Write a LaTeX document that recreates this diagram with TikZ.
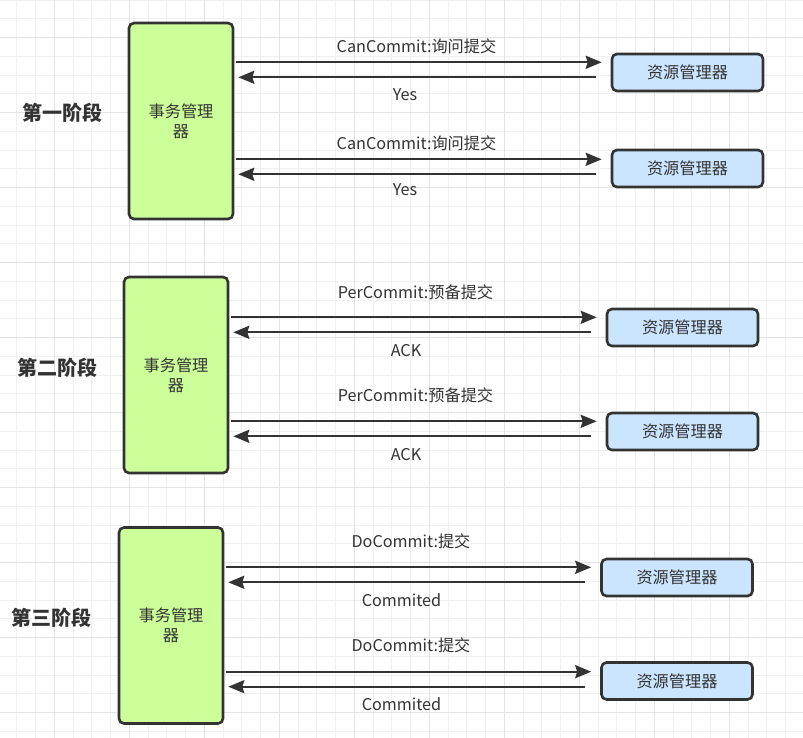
\documentclass[tikz,border=0pt]{standalone}
\usepackage{fontspec}
\setmainfont{Noto Sans CJK SC}
\usetikzlibrary{arrows.meta,calc}
\definecolor{ink}{HTML}{333333}
\definecolor{tmfill}{HTML}{CCFF99}
\definecolor{rmfill}{HTML}{CCE5FF}
\definecolor{gminor}{HTML}{F0F0F0}
\definecolor{gmajor}{HTML}{E3E3E3}
\tikzset{
  tmbox/.style={draw=ink, line width=2.6pt, fill=tmfill, rounded corners=5pt,
    minimum width=104pt, minimum height=196pt, inner sep=0pt, align=center,
    text=ink, font=\fontsize{16.2}{20}\selectfont},
  rmbox/.style={draw=ink, line width=2.6pt, fill=rmfill, rounded corners=5pt,
    minimum width=151pt, minimum height=37pt, inner sep=0pt,
    text=ink, font=\fontsize{16.2}{20}\selectfont},
  msg/.style={text=ink, font=\fontsize{16.2}{20}\selectfont, inner sep=0pt},
  phase/.style={text=ink, font=\bfseries\fontsize{20}{22}\selectfont, inner sep=0pt},
  link/.style={draw=ink, line width=2.3pt, -{Stealth[length=16pt,width=13pt,inset=2pt]}}
}
\begin{document}
\begin{tikzpicture}[x=1pt,y=-1pt]
\useasboundingbox (0,0) rectangle (803,738);
\fill[white] (0,0) rectangle (803,738);
% grid
\foreach \k in {0,...,42} {\draw[gminor, line width=1pt] ({16.8+18.75*\k},0) -- ({16.8+18.75*\k},738);}
\foreach \k in {0,...,39} {\draw[gminor, line width=1pt] (0,{0.2+18.75*\k}) -- (803,{0.2+18.75*\k});}
\foreach \k in {0,...,9} {\draw[gmajor, line width=1pt] ({54.3+75*\k},0) -- ({54.3+75*\k},738);}
\foreach \k in {0,...,9} {\draw[gmajor, line width=1pt] (0,{37.7+75*\k}) -- (803,{37.7+75*\k});}

% ---------- phase 1 ----------
\node[phase] (p1) at (62,113) {第一阶段};
\node[tmbox] (tm1) at (181,121) {事务管理\\器};
\node[rmbox] (rm1a) at (687.5,72.5) {资源管理器};
\node[rmbox] (rm1b) at (687.5,168.5) {资源管理器};
\draw[link] ($(tm1.east |- 0,62.3)+(2,0)$) -- ($(rm1a.west |- 0,62.3)+(-9,0)$);
\draw[link] ($(rm1a.west |- 0,77.3)+(-15,0)$) -- ($(tm1.east |- 0,77.3)+(4,0)$);
\draw[link] ($(tm1.east |- 0,159.3)+(2,0)$) -- ($(rm1b.west |- 0,159.3)+(-9,0)$);
\draw[link] ($(rm1b.west |- 0,174.3)+(-15,0)$) -- ($(tm1.east |- 0,174.3)+(4,0)$);
\node[msg] (m1a) at (416.5,46) {CanCommit:询问提交};
\node[msg] (r1a) at (405,95) {Yes};
\node[msg] (m1b) at (416.5,143) {CanCommit:询问提交};
\node[msg] (r1b) at (405,190) {Yes};

% ---------- phase 2 ----------
\node[phase] (p2) at (57,368) {第二阶段};
\node[tmbox] (tm2) at (176,375) {事务管理\\器};
\node[rmbox] (rm2a) at (682.5,327.5) {资源管理器};
\node[rmbox] (rm2b) at (682.5,431.5) {资源管理器};
\draw[link] ($(tm2.east |- 0,317.3)+(2,0)$) -- ($(rm2a.west |- 0,317.3)+(-9,0)$);
\draw[link] ($(rm2a.west |- 0,332.3)+(-15,0)$) -- ($(tm2.east |- 0,332.3)+(4,0)$);
\draw[link] ($(tm2.east |- 0,421.3)+(2,0)$) -- ($(rm2b.west |- 0,421.3)+(-9,0)$);
\draw[link] ($(rm2b.west |- 0,436.3)+(-15,0)$) -- ($(tm2.east |- 0,436.3)+(4,0)$);
\node[msg] (m2a) at (415.5,292) {PerCommit:预备提交};
\node[msg] (r2a) at (406,351) {ACK};
\node[msg] (m2b) at (415.5,395.5) {PerCommit:预备提交};
\node[msg] (r2b) at (406,455) {ACK};

% ---------- phase 3 ----------
\node[phase] (p3) at (52,618) {第三阶段};
\node[tmbox] (tm3) at (171,625.5) {事务管理\\器};
\node[rmbox] (rm3a) at (677,577.5) {资源管理器};
\node[rmbox] (rm3b) at (677,681) {资源管理器};
\draw[link] ($(tm3.east |- 0,567.3)+(2,0)$) -- ($(rm3a.west |- 0,567.3)+(-9,0)$);
\draw[link] ($(rm3a.west |- 0,582.3)+(-15,0)$) -- ($(tm3.east |- 0,582.3)+(4,0)$);
\draw[link] ($(tm3.east |- 0,671.7)+(2,0)$) -- ($(rm3b.west |- 0,671.7)+(-9,0)$);
\draw[link] ($(rm3b.west |- 0,686.7)+(-15,0)$) -- ($(tm3.east |- 0,686.7)+(4,0)$);
\node[msg] (m3a) at (411,541.5) {DoCommit:提交};
\node[msg] (r3a) at (401.5,600.5) {Commited};
\node[msg] (m3b) at (411,645) {DoCommit:提交};
\node[msg] (r3b) at (401.5,704) {Commited};
\end{tikzpicture}
\end{document}
